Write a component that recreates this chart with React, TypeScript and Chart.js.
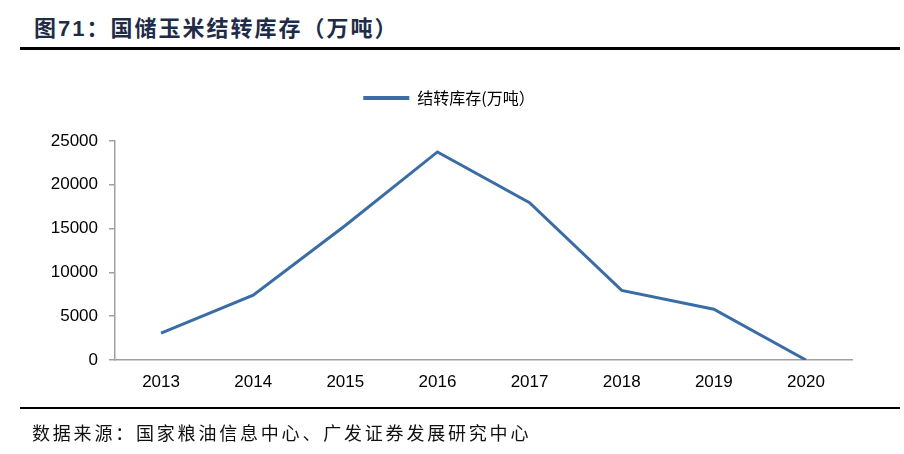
import React, { useEffect, useRef } from "react";
import { Chart, registerables } from "chart.js";

Chart.register(...registerables);

const categories = ["2013", "2014", "2015", "2016", "2017", "2018", "2019", "2020"];
const stockValues = [3070, 7400, 15350, 23750, 17950, 7950, 5800, 0];
const seriesName = "结转库存(万吨）";
const yTicks = [0, 5000, 10000, 15000, 20000, 25000];
const titleText = "图71：国储玉米结转库存（万吨）";
const sourceText = "数据来源：国家粮油信息中心、广发证券发展研究中心";

const LINE_COLOR = "#3a6ca6";
const AXIS_COLOR = "#a0a0a0";
const LEGEND_SHIFT = 13;

const legendShift = {
  id: "legendShift",
  afterLayout(chart: any) {
    const lg = chart.legend;
    if (lg) {
      lg.left += LEGEND_SHIFT;
      lg.right += LEGEND_SHIFT;
    }
  },
};

export default function App() {
  const canvasRef = useRef<HTMLCanvasElement | null>(null);

  useEffect(() => {
    const canvas = canvasRef.current;
    if (!canvas) return;
    const chart = new Chart(canvas, {
      type: "line",
      data: {
        labels: categories,
        datasets: [
          {
            label: seriesName,
            data: stockValues,
            borderColor: LINE_COLOR,
            backgroundColor: LINE_COLOR,
            borderWidth: 3,
            pointRadius: 0,
            tension: 0,
            fill: false,
          },
        ],
      },
      plugins: [legendShift],
      options: {
        animation: false,
        responsive: false,
        devicePixelRatio: 1,
        layout: { padding: { left: 20, right: 52, top: 80, bottom: 54 } },
        plugins: {
          tooltip: { enabled: false },
          legend: {
            position: "top",
            labels: {
              boxWidth: 46,
              boxHeight: 4,
              padding: 10,
              color: "#000",
              font: { size: 16, family: "'Noto Sans CJK SC', 'Liberation Sans', sans-serif" },
              generateLabels: (c: any) =>
                Chart.defaults.plugins.legend.labels
                  .generateLabels(c)
                  .map((l: any) => ({ ...l, lineWidth: 0, fillStyle: LINE_COLOR })),
            },
          },
        },
        scales: {
          x: {
            type: "category",
            offset: true,
            grid: { display: false, drawTicks: false },
            border: { display: true, color: AXIS_COLOR, width: 1.5 },
            ticks: {
              color: "#000",
              padding: 12,
              maxRotation: 0,
              font: { size: 17, family: "'Liberation Sans', Arial, sans-serif" },
            },
            afterFit: (s: any) => {
              s.height = 40;
            },
          },
          xTop: {
            type: "category",
            position: "top",
            display: true,
            grid: { display: false, drawTicks: false },
            border: { display: false },
            ticks: { display: false },
            afterFit: (s: any) => {
              s.height = 25;
            },
          },
          y: {
            min: 0,
            max: 25000,
            afterBuildTicks: (s: any) => {
              s.ticks = yTicks.map((v) => ({ value: v }));
            },
            grid: { drawOnChartArea: false, drawTicks: true, tickLength: 6, color: AXIS_COLOR, lineWidth: 1.5 },
            border: { display: true, color: AXIS_COLOR, width: 1.5 },
            ticks: {
              color: "#000",
              padding: 11,
              font: { size: 17, family: "'Liberation Sans', Arial, sans-serif" },
              callback: (v: any) => String(v),
            },
            afterFit: (s: any) => {
              s.width = 95;
            },
          },
        },
      },
    });
    return () => chart.destroy();
  }, []);

  return (
    <div
      style={{
        position: "fixed",
        left: 0,
        top: 0,
        width: 904,
        height: 454,
        background: "#fff",
        overflow: "hidden",
      }}
    >
      <div
        style={{
          position: "absolute",
          left: 34,
          top: 18,
          fontFamily: "'Liberation Sans', 'Noto Sans CJK SC', sans-serif",
          fontWeight: 700,
          fontSize: 22,
          lineHeight: "22px",
          letterSpacing: 2,
          color: "#1f2c47",
          whiteSpace: "nowrap",
        }}
      >
        {titleText}
      </div>
      <div style={{ position: "absolute", left: 20, top: 47, width: 880, height: 3, background: "#000" }} />
      <canvas
        ref={canvasRef}
        width={904}
        height={454}
        style={{ position: "absolute", left: 0, top: 0, width: 904, height: 454 }}
      />
      <div style={{ position: "absolute", left: 20, top: 407, width: 880, height: 2, background: "#000" }} />
      <div
        style={{
          position: "absolute",
          left: 32,
          top: 423,
          fontFamily: "'Noto Sans CJK SC', sans-serif",
          fontSize: 18,
          lineHeight: "18px",
          letterSpacing: 2.8,
          color: "#111",
          whiteSpace: "nowrap",
        }}
      >
        {sourceText}
      </div>
    </div>
  );
}
